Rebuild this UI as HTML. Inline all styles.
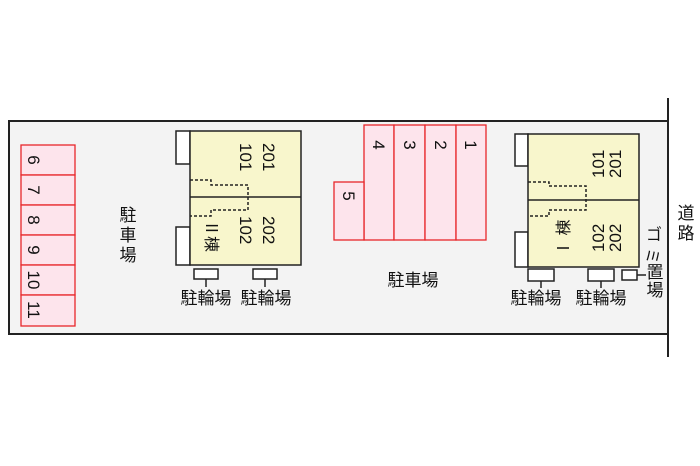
<!DOCTYPE html>
<html><head><meta charset="utf-8"><style>
html,body{margin:0;padding:0;background:#fff;}
svg{display:block;}
text{font-family:"Liberation Sans","Noto Sans CJK JP",sans-serif;fill:#111;}
</style></head><body>
<svg width="700" height="466" viewBox="0 0 700 466" xmlns="http://www.w3.org/2000/svg">
<rect x="9" y="121" width="659" height="213" fill="#f3f3f3" stroke="#222" stroke-width="2"/>
<line x1="668" y1="98" x2="668" y2="357" stroke="#222" stroke-width="2"/>
<g fill="#fde4ec" stroke="#e8262a" stroke-width="1.3">
<rect x="21" y="145" width="54" height="30"/><rect x="21" y="175" width="54" height="30"/>
<rect x="21" y="205" width="54" height="30"/><rect x="21" y="235" width="54" height="30"/>
<rect x="21" y="265" width="54" height="30"/><rect x="21" y="295" width="54" height="31"/>
<rect x="364" y="125" width="30" height="115"/><rect x="394" y="125" width="31" height="115"/>
<rect x="425" y="125" width="31" height="115"/><rect x="456" y="125" width="30" height="115"/>
<rect x="334" y="182" width="30" height="58"/>
</g>
<g font-size="17">
<text transform="rotate(90 28 160)" x="28" y="160" text-anchor="middle">6</text>
<text transform="rotate(90 28 190)" x="28" y="190" text-anchor="middle">7</text>
<text transform="rotate(90 28 220)" x="28" y="220" text-anchor="middle">8</text>
<text transform="rotate(90 28 250)" x="28" y="250" text-anchor="middle">9</text>
<text transform="rotate(90 28 280)" x="28" y="280" text-anchor="middle">10</text>
<text transform="rotate(90 28 310)" x="28" y="310" text-anchor="middle">11</text>
<text transform="rotate(90 373 145)" x="373" y="145" text-anchor="middle">4</text>
<text transform="rotate(90 404 145)" x="404" y="145" text-anchor="middle">3</text>
<text transform="rotate(90 435 145)" x="435" y="145" text-anchor="middle">2</text>
<text transform="rotate(90 465 145)" x="465" y="145" text-anchor="middle">1</text>
<text transform="rotate(90 343 196)" x="343" y="196" text-anchor="middle">5</text>
</g>
<g stroke="#222" stroke-width="1.5">
<rect x="176" y="131" width="14" height="33" fill="#fff"/>
<rect x="176" y="227" width="14" height="38" fill="#fff"/>
<rect x="190" y="131" width="111" height="134" fill="#f8f6cc"/>
<line x1="190" y1="197" x2="301" y2="197"/>
<rect x="194" y="269" width="24" height="10" fill="#fff"/>
<rect x="253" y="269" width="24" height="10" fill="#fff"/>
<line x1="206" y1="279" x2="206" y2="287"/><line x1="265" y1="279" x2="265" y2="287"/>
<rect x="515" y="134" width="13" height="32" fill="#fff"/>
<rect x="515" y="232" width="13" height="35" fill="#fff"/>
<rect x="528" y="134" width="111" height="133" fill="#f8f6cc"/>
<line x1="528" y1="200" x2="639" y2="200"/>
<rect x="528" y="269" width="26" height="12" fill="#fff"/>
<rect x="588" y="269" width="26" height="12" fill="#fff"/>
<rect x="622" y="270" width="15" height="10" fill="#fff"/>
<line x1="541" y1="281" x2="541" y2="288"/><line x1="601" y1="281" x2="601" y2="288"/>
<line x1="637" y1="275" x2="646" y2="275"/>
</g>
<g fill="none" stroke="#222" stroke-width="1.5" stroke-dasharray="3,2">
<path d="M190 180 H211 V185 H248 V210 H211 V216 H190"/>
<path d="M528 182 H549 V186 H586 V210 H549 V216 H528"/>
</g>
<g font-size="17">
<text transform="rotate(90 263 143)" x="263" y="143">201</text>
<text transform="rotate(90 240 143)" x="240" y="143">101</text>
<text transform="rotate(90 263 216)" x="263" y="216">202</text>
<text transform="rotate(90 240 216)" x="240" y="216">102</text>
<text transform="rotate(-90 604 178)" x="604" y="178">101</text>
<text transform="rotate(-90 621 178)" x="621" y="178">201</text>
<text transform="rotate(-90 604 252)" x="604" y="252">102</text>
<text transform="rotate(-90 621 252)" x="621" y="252">202</text>
</g>
<g font-size="16">
<text transform="rotate(90 206 220)" x="206" y="220">Ⅱ棟</text>
<text transform="rotate(-90 569 256)" x="569" y="256">Ⅰ 棟</text>
</g>
<g font-size="17">
<text x="206" y="304" text-anchor="middle">駐輪場</text>
<text x="266" y="304" text-anchor="middle">駐輪場</text>
<text x="536" y="304" text-anchor="middle">駐輪場</text>
<text x="601" y="304" text-anchor="middle">駐輪場</text>
<text x="413" y="286" text-anchor="middle">駐車場</text>
<text x="128" y="221" text-anchor="middle">駐</text>
<text x="128" y="241" text-anchor="middle">車</text>
<text x="128" y="261" text-anchor="middle">場</text>
<text x="686" y="219" text-anchor="middle">道</text>
<text x="686" y="239" text-anchor="middle">路</text>
<text x="654" y="240" text-anchor="middle" font-size="16">ゴ</text>
<text transform="rotate(90 647 248)" x="647" y="248" font-size="16">ミ</text>
<text x="655" y="278" text-anchor="middle">置</text>
<text x="655" y="296" text-anchor="middle">場</text>
</g>
</svg>
</body></html>
